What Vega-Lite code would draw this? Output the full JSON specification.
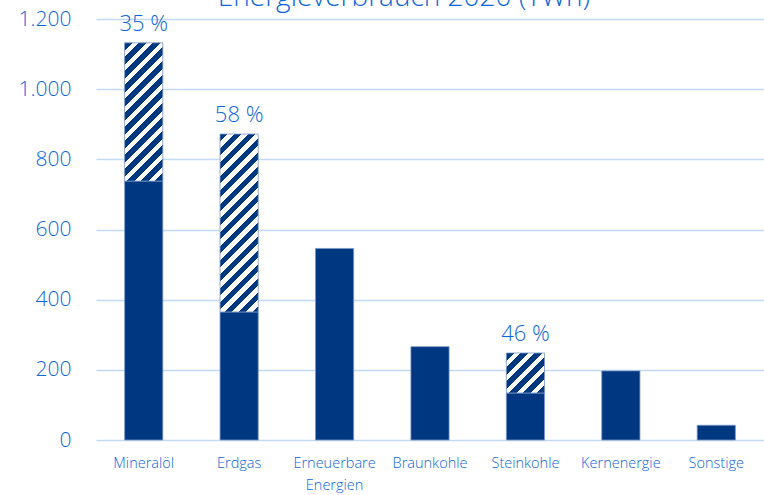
{
  "$schema": "https://vega.github.io/schema/vega-lite/v6.json",
  "width": 668,
  "height": 421,
  "autosize": {"type": "none"},
  "padding": {"left": 96, "top": 19, "right": 0, "bottom": 55},
  "title": {
    "text": "Energieverbrauch 2020 (TWh)",
    "font": "Open Sans",
    "fontSize": 28,
    "fontWeight": 300,
    "color": "#0D66DB",
    "anchor": "middle",
    "frame": "group",
    "dx": -26,
    "baseline": "alphabetic",
    "offset": -26
  },
  "datasets": {
    "bars": [
      {"cat": "Mineralöl", "part": "solid", "ord": 1, "value": 738},
      {"cat": "Mineralöl", "part": "hatch", "ord": 2, "value": 394},
      {"cat": "Erdgas", "part": "solid", "ord": 1, "value": 365},
      {"cat": "Erdgas", "part": "hatch", "ord": 2, "value": 507},
      {"cat": "Erneuerbare Energien", "part": "solid", "ord": 1, "value": 546},
      {"cat": "Braunkohle", "part": "solid", "ord": 1, "value": 266},
      {"cat": "Steinkohle", "part": "solid", "ord": 1, "value": 134},
      {"cat": "Steinkohle", "part": "hatch", "ord": 2, "value": 114},
      {"cat": "Kernenergie", "part": "solid", "ord": 1, "value": 197},
      {"cat": "Sonstige", "part": "solid", "ord": 1, "value": 42}
    ],
    "labels": [
      {"cat": "Mineralöl", "total": 1132, "label": "35 %"},
      {"cat": "Erdgas", "total": 872, "label": "58 %"},
      {"cat": "Steinkohle", "total": 248, "label": "46 %"}
    ]
  },
  "encoding": {
    "x": {
      "field": "cat",
      "type": "nominal",
      "sort": null,
      "scale": {
        "domain": ["Mineralöl", "Erdgas", "Erneuerbare Energien", "Braunkohle", "Steinkohle", "Kernenergie", "Sonstige"],
        "paddingInner": 0.6,
        "paddingOuter": 0.3
      },
      "axis": {
        "title": null,
        "labelAngle": 0,
        "domain": false,
        "ticks": false,
        "tickSize": 0,
        "labelPadding": 16,
        "labelFont": "Open Sans",
        "labelFontSize": 14.5,
        "labelFontWeight": 300,
        "labelColor": "#0D66DB",
        "labelLineHeight": 22,
        "labelExpr": "datum.label == 'Erneuerbare Energien' ? ['Erneuerbare', 'Energien'] : datum.label"
      }
    }
  },
  "layer": [
    {
      "data": {"name": "bars"},
      "mark": {"type": "bar", "stroke": "#7896c6", "strokeWidth": 0.8},
      "encoding": {
        "y": {
          "field": "value",
          "type": "quantitative",
          "stack": "zero",
          "scale": {"domain": [0, 1200]},
          "axis": {
            "title": null,
            "values": [0, 200, 400, 600, 800, 1000, 1200],
            "domain": false,
            "ticks": false,
            "tickSize": 0,
            "labelPadding": 25,
            "labelFont": "Open Sans",
            "labelFontSize": 21,
            "labelFontWeight": 300,
            "labelColor": "#0D66DB",
            "gridColor": "#C2D9F7",
            "gridWidth": 1.6,
            "labelExpr": "replace(format(datum.value, ','), ',', '.')"
          }
        },
        "detail": {"field": "part"},
        "order": {"field": "ord", "type": "quantitative"},
        "fill": {
          "condition": [
            {"test": "datum.part === 'solid'", "value": "#003781"},
            {"test": "datum.cat === 'Mineralöl'", "value": {
              "gradient": "linear", "x1": 0, "y1": 0, "x2": 0.3264, "y2": 1.1855,
              "stops": [
                {"offset": 0, "color": "#003781"}, {"offset": 0.0438, "color": "#003781"}, {"offset": 0.0438, "color": "#ffffff"}, {"offset": 0.0795, "color": "#ffffff"},
                {"offset": 0.0795, "color": "#003781"}, {"offset": 0.1233, "color": "#003781"}, {"offset": 0.1233, "color": "#ffffff"}, {"offset": 0.1591, "color": "#ffffff"},
                {"offset": 0.1591, "color": "#003781"}, {"offset": 0.2028, "color": "#003781"}, {"offset": 0.2028, "color": "#ffffff"}, {"offset": 0.2386, "color": "#ffffff"},
                {"offset": 0.2386, "color": "#003781"}, {"offset": 0.2824, "color": "#003781"}, {"offset": 0.2824, "color": "#ffffff"}, {"offset": 0.3182, "color": "#ffffff"},
                {"offset": 0.3182, "color": "#003781"}, {"offset": 0.3619, "color": "#003781"}, {"offset": 0.3619, "color": "#ffffff"}, {"offset": 0.3977, "color": "#ffffff"},
                {"offset": 0.3977, "color": "#003781"}, {"offset": 0.4415, "color": "#003781"}, {"offset": 0.4415, "color": "#ffffff"}, {"offset": 0.4773, "color": "#ffffff"},
                {"offset": 0.4773, "color": "#003781"}, {"offset": 0.521, "color": "#003781"}, {"offset": 0.521, "color": "#ffffff"}, {"offset": 0.5568, "color": "#ffffff"},
                {"offset": 0.5568, "color": "#003781"}, {"offset": 0.6006, "color": "#003781"}, {"offset": 0.6006, "color": "#ffffff"}, {"offset": 0.6364, "color": "#ffffff"},
                {"offset": 0.6364, "color": "#003781"}, {"offset": 0.6801, "color": "#003781"}, {"offset": 0.6801, "color": "#ffffff"}, {"offset": 0.7159, "color": "#ffffff"},
                {"offset": 0.7159, "color": "#003781"}, {"offset": 0.7597, "color": "#003781"}, {"offset": 0.7597, "color": "#ffffff"}, {"offset": 0.7955, "color": "#ffffff"},
                {"offset": 0.7955, "color": "#003781"}, {"offset": 0.8392, "color": "#003781"}, {"offset": 0.8392, "color": "#ffffff"}, {"offset": 0.875, "color": "#ffffff"},
                {"offset": 0.875, "color": "#003781"}, {"offset": 0.9188, "color": "#003781"}, {"offset": 0.9188, "color": "#ffffff"}, {"offset": 0.9545, "color": "#ffffff"},
                {"offset": 0.9545, "color": "#003781"}, {"offset": 0.9983, "color": "#003781"}, {"offset": 0.9983, "color": "#ffffff"}, {"offset": 1, "color": "#ffffff"}
              ]
            }},
            {"test": "datum.cat === 'Erdgas'", "value": {
              "gradient": "linear", "x1": 0, "y1": 0, "x2": 0.2478, "y2": 1.1606,
              "stops": [
                {"offset": 0, "color": "#003781"}, {"offset": 0.0356, "color": "#003781"}, {"offset": 0.0356, "color": "#ffffff"}, {"offset": 0.0648, "color": "#ffffff"},
                {"offset": 0.0648, "color": "#003781"}, {"offset": 0.1005, "color": "#003781"}, {"offset": 0.1005, "color": "#ffffff"}, {"offset": 0.1296, "color": "#ffffff"},
                {"offset": 0.1296, "color": "#003781"}, {"offset": 0.1653, "color": "#003781"}, {"offset": 0.1653, "color": "#ffffff"}, {"offset": 0.1944, "color": "#ffffff"},
                {"offset": 0.1944, "color": "#003781"}, {"offset": 0.2301, "color": "#003781"}, {"offset": 0.2301, "color": "#ffffff"}, {"offset": 0.2593, "color": "#ffffff"},
                {"offset": 0.2593, "color": "#003781"}, {"offset": 0.2949, "color": "#003781"}, {"offset": 0.2949, "color": "#ffffff"}, {"offset": 0.3241, "color": "#ffffff"},
                {"offset": 0.3241, "color": "#003781"}, {"offset": 0.3597, "color": "#003781"}, {"offset": 0.3597, "color": "#ffffff"}, {"offset": 0.3889, "color": "#ffffff"},
                {"offset": 0.3889, "color": "#003781"}, {"offset": 0.4245, "color": "#003781"}, {"offset": 0.4245, "color": "#ffffff"}, {"offset": 0.4537, "color": "#ffffff"},
                {"offset": 0.4537, "color": "#003781"}, {"offset": 0.4894, "color": "#003781"}, {"offset": 0.4894, "color": "#ffffff"}, {"offset": 0.5185, "color": "#ffffff"},
                {"offset": 0.5185, "color": "#003781"}, {"offset": 0.5542, "color": "#003781"}, {"offset": 0.5542, "color": "#ffffff"}, {"offset": 0.5833, "color": "#ffffff"},
                {"offset": 0.5833, "color": "#003781"}, {"offset": 0.619, "color": "#003781"}, {"offset": 0.619, "color": "#ffffff"}, {"offset": 0.6481, "color": "#ffffff"},
                {"offset": 0.6481, "color": "#003781"}, {"offset": 0.6838, "color": "#003781"}, {"offset": 0.6838, "color": "#ffffff"}, {"offset": 0.713, "color": "#ffffff"},
                {"offset": 0.713, "color": "#003781"}, {"offset": 0.7486, "color": "#003781"}, {"offset": 0.7486, "color": "#ffffff"}, {"offset": 0.7778, "color": "#ffffff"},
                {"offset": 0.7778, "color": "#003781"}, {"offset": 0.8134, "color": "#003781"}, {"offset": 0.8134, "color": "#ffffff"}, {"offset": 0.8426, "color": "#ffffff"},
                {"offset": 0.8426, "color": "#003781"}, {"offset": 0.8782, "color": "#003781"}, {"offset": 0.8782, "color": "#ffffff"}, {"offset": 0.9074, "color": "#ffffff"},
                {"offset": 0.9074, "color": "#003781"}, {"offset": 0.9431, "color": "#003781"}, {"offset": 0.9431, "color": "#ffffff"}, {"offset": 0.9722, "color": "#ffffff"},
                {"offset": 0.9722, "color": "#003781"}, {"offset": 1, "color": "#003781"}
              ]
            }},
            {"test": "datum.cat === 'Steinkohle'", "value": {
              "gradient": "linear", "x1": 0, "y1": 0, "x2": 0.9737, "y2": 1.025,
              "stops": [
                {"offset": 0, "color": "#003781"}, {"offset": 0.0987, "color": "#003781"}, {"offset": 0.0987, "color": "#ffffff"}, {"offset": 0.1795, "color": "#ffffff"},
                {"offset": 0.1795, "color": "#003781"}, {"offset": 0.2782, "color": "#003781"}, {"offset": 0.2782, "color": "#ffffff"}, {"offset": 0.359, "color": "#ffffff"},
                {"offset": 0.359, "color": "#003781"}, {"offset": 0.4577, "color": "#003781"}, {"offset": 0.4577, "color": "#ffffff"}, {"offset": 0.5385, "color": "#ffffff"},
                {"offset": 0.5385, "color": "#003781"}, {"offset": 0.6372, "color": "#003781"}, {"offset": 0.6372, "color": "#ffffff"}, {"offset": 0.7179, "color": "#ffffff"},
                {"offset": 0.7179, "color": "#003781"}, {"offset": 0.8167, "color": "#003781"}, {"offset": 0.8167, "color": "#ffffff"}, {"offset": 0.8974, "color": "#ffffff"},
                {"offset": 0.8974, "color": "#003781"}, {"offset": 0.9962, "color": "#003781"}, {"offset": 0.9962, "color": "#ffffff"}, {"offset": 1, "color": "#ffffff"}
              ]
            }}
          ],
          "value": "#003781"
        }
      }
    },
    {
      "data": {"name": "labels"},
      "mark": {"type": "text", "font": "Open Sans", "fontSize": 22, "fontWeight": 300, "color": "#0D66DB", "baseline": "alphabetic", "dy": -12},
      "encoding": {
        "y": {"field": "total", "type": "quantitative"},
        "text": {"field": "label"}
      }
    }
  ],
  "config": {
    "view": {"stroke": null}
  }
}
